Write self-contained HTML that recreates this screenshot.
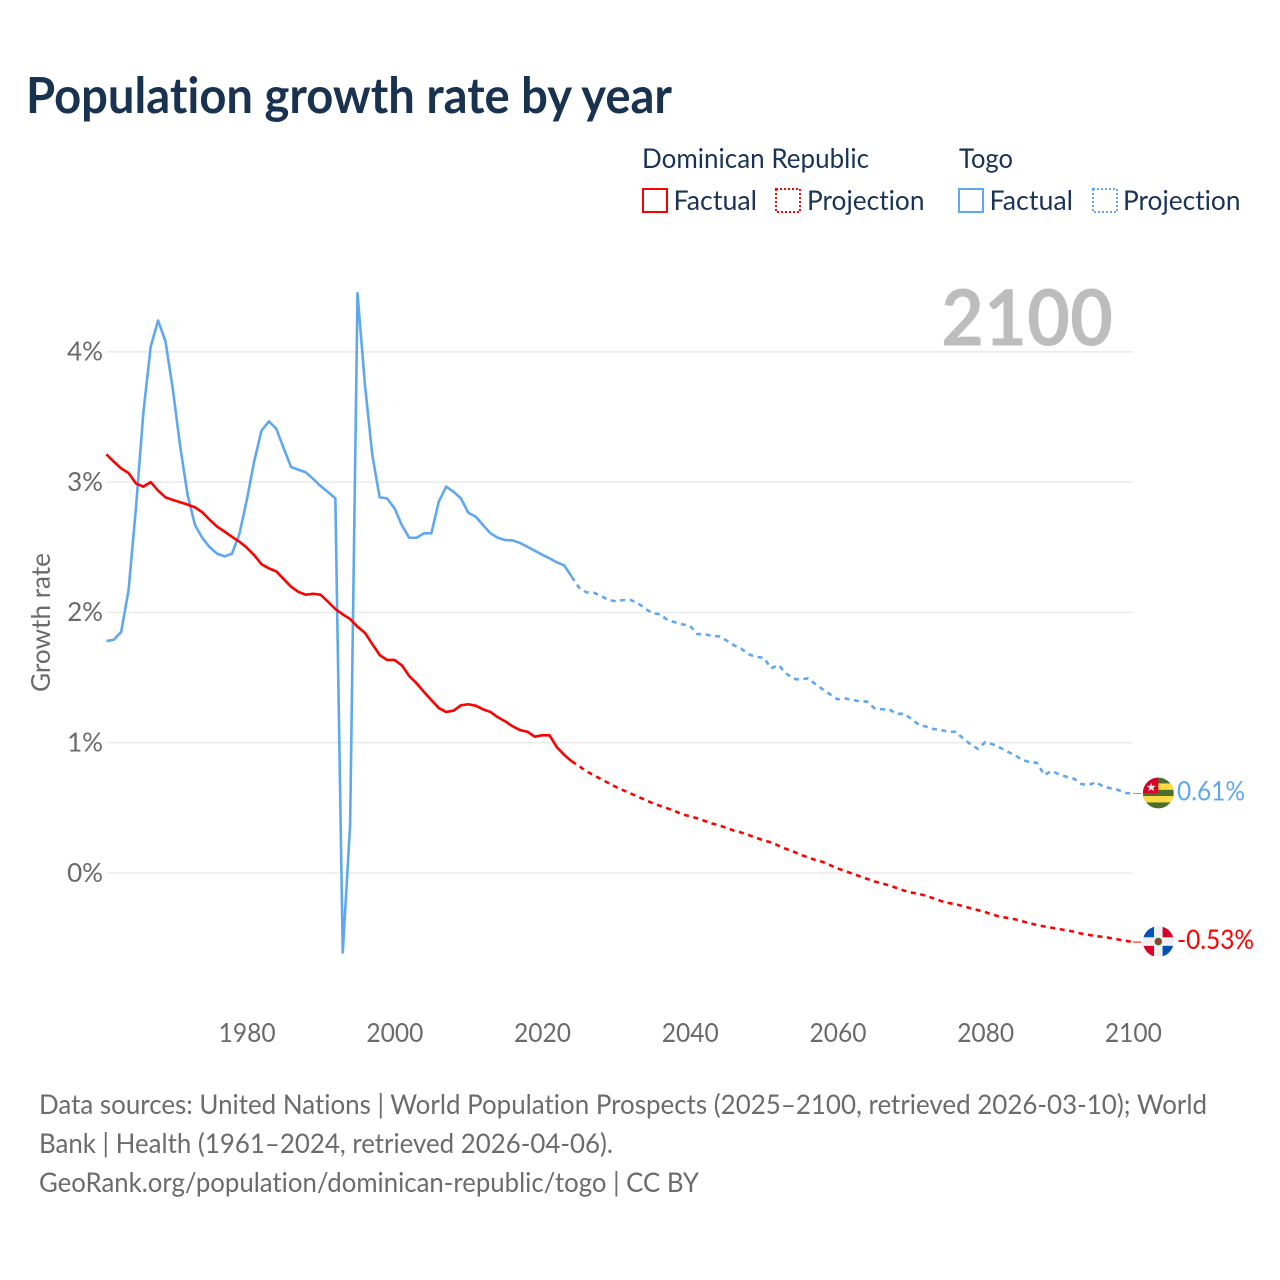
<!DOCTYPE html>
<html lang="en">
<head>
<meta charset="utf-8">
<title>Population growth rate by year</title>
<style>
html,body{margin:0;padding:0;background:#fff;}
svg{display:block;font-family:"Lato","Carlito","Liberation Sans",sans-serif;font-variant-ligatures:none;}
</style>
</head>
<body>
<svg id="chart" xmlns="http://www.w3.org/2000/svg" width="1280" height="1280" viewBox="0 0 1280 1280">
  <defs>
    <clipPath id="flag-clip"><circle cx="0" cy="0" r="15.4"/></clipPath>
  </defs>
  <rect x="0" y="0" width="1280" height="1280" fill="#fff"/>
  <text x="26" y="113" font-size="50" font-weight="700" fill="#18324f" textLength="646" lengthAdjust="spacingAndGlyphs">Population growth rate by year</text>

  <g font-size="27" fill="#1a3356">
    <text x="642" y="168" textLength="227" lengthAdjust="spacingAndGlyphs">Dominican Republic</text>
    <text x="959" y="168" textLength="54" lengthAdjust="spacingAndGlyphs">Togo</text>
    <rect x="643" y="189" width="24" height="23" fill="none" stroke="#ff0000" stroke-width="2"/>
    <text x="673.5" y="210" textLength="83.5" lengthAdjust="spacingAndGlyphs">Factual</text>
    <rect x="776" y="189" width="24" height="23" fill="none" stroke="#ff0000" stroke-width="2" stroke-dasharray="2 2"/>
    <text x="807" y="210" textLength="117.5" lengthAdjust="spacingAndGlyphs">Projection</text>
    <rect x="959" y="189" width="24" height="23" fill="none" stroke="#5fa8f0" stroke-width="2"/>
    <text x="989.5" y="210" textLength="83.5" lengthAdjust="spacingAndGlyphs">Factual</text>
    <rect x="1093" y="189" width="24" height="23" fill="none" stroke="#5fa8f0" stroke-width="2" stroke-dasharray="2 2"/>
    <text x="1123" y="210" textLength="117.5" lengthAdjust="spacingAndGlyphs">Projection</text>
  </g>

  <text transform="translate(50,622.5) rotate(-90)" text-anchor="middle" font-size="26" fill="#6a6a6a" textLength="139" lengthAdjust="spacingAndGlyphs">Growth rate</text>

  <g id="grid"></g>
  <g id="y-ticks"></g>
  <g id="x-ticks"></g>

  <text x="1113" y="345.5" text-anchor="end" font-size="78" font-weight="700" fill="#bdbdbd" textLength="172" lengthAdjust="spacingAndGlyphs">2100</text>

  <g id="series"></g>

  <g id="flag-togo">
    <g clip-path="url(#flag-clip)">
      <rect x="-16" y="-16" width="32" height="32" fill="#496e2d"/>
      <rect x="-16" y="-9.6" width="32" height="6.4" fill="#ffda44"/>
      <rect x="-16" y="3" width="32" height="6.4" fill="#ffda44"/>
      <rect x="-16" y="-16" width="16" height="16" fill="#d80027"/>
      <polygon points="-7,-10.5 -5.8,-7.2 -2.4,-7.2 -5.1,-5.1 -4.1,-1.8 -7,-3.8 -9.9,-1.8 -8.9,-5.1 -11.6,-7.2 -8.2,-7.2" fill="#f0f0f0"/>
    </g>
  </g>
  <g id="flag-dr">
    <g clip-path="url(#flag-clip)">
      <rect x="-16" y="-16" width="32" height="32" fill="#f0f0f0"/>
      <rect x="-16" y="-16" width="11.7" height="11.7" fill="#0052b4"/>
      <rect x="4.3" y="-16" width="11.7" height="11.7" fill="#d80027"/>
      <rect x="-16" y="4.3" width="11.7" height="11.7" fill="#d80027"/>
      <rect x="4.3" y="4.3" width="11.7" height="11.7" fill="#0052b4"/>
      <circle cx="0" cy="0" r="3.8" fill="#496e2d"/>
      <circle cx="0" cy="0" r="2.1" fill="#c8203a"/>
    </g>
  </g>
  <text id="label-togo" x="1177" font-size="27" fill="#5fa8f0" textLength="68" lengthAdjust="spacingAndGlyphs"></text>
  <text id="label-dr" x="1177" font-size="27" fill="#ff0000" textLength="77" lengthAdjust="spacingAndGlyphs"></text>

  <g font-size="27.5" fill="#6b6b6b">
    <text x="39" y="1114" textLength="1168" lengthAdjust="spacingAndGlyphs">Data sources: United Nations | World Population Prospects (2025–2100, retrieved 2026-03-10); World</text>
    <text x="39" y="1153" textLength="574" lengthAdjust="spacingAndGlyphs">Bank | Health (1961–2024, retrieved 2026-04-06).</text>
    <text x="39" y="1192" textLength="660" lengthAdjust="spacingAndGlyphs">GeoRank.org/population/dominican-republic/togo | CC BY</text>
  </g>
</svg>
<script>
const xTicks = [1980, 2000, 2020, 2040, 2060, 2080, 2100];
const yTicks = [0, 1, 2, 3, 4];
const factualStartYear = [1961];
const projectionStartYear = [2024];

const drFactual = [3.213,3.157,3.105,3.07,2.99,2.965,3.0,2.935,2.883,2.863,2.845,2.827,2.806,2.768,2.71,2.658,2.62,2.58,2.543,2.497,2.44,2.37,2.338,2.315,2.256,2.197,2.157,2.136,2.143,2.136,2.082,2.026,1.985,1.949,1.89,1.844,1.757,1.673,1.635,1.635,1.594,1.512,1.456,1.389,1.328,1.266,1.236,1.246,1.287,1.295,1.284,1.256,1.236,1.195,1.164,1.126,1.097,1.084,1.046,1.057,1.057,0.965,0.906,0.857];
const drProjection = [0.857,0.82,0.78,0.75,0.72,0.69,0.66,0.635,0.61,0.585,0.56,0.535,0.515,0.495,0.475,0.45,0.435,0.42,0.40,0.38,0.365,0.345,0.325,0.31,0.29,0.27,0.25,0.235,0.21,0.185,0.165,0.14,0.12,0.10,0.085,0.06,0.035,0.015,-0.005,-0.025,-0.045,-0.065,-0.08,-0.095,-0.115,-0.135,-0.15,-0.16,-0.175,-0.195,-0.215,-0.23,-0.24,-0.255,-0.27,-0.285,-0.30,-0.32,-0.335,-0.345,-0.355,-0.37,-0.385,-0.40,-0.41,-0.42,-0.43,-0.44,-0.45,-0.465,-0.475,-0.485,-0.49,-0.50,-0.51,-0.52,-0.53];
const togoFactual = [1.78,1.79,1.85,2.17,2.8,3.53,4.04,4.24,4.08,3.71,3.27,2.90,2.67,2.57,2.50,2.45,2.43,2.45,2.60,2.86,3.157,3.395,3.466,3.41,3.26,3.116,3.095,3.075,3.024,2.97,2.924,2.875,-0.61,0.37,4.45,3.75,3.21,2.883,2.875,2.80,2.67,2.573,2.573,2.607,2.607,2.85,2.965,2.926,2.875,2.765,2.735,2.67,2.607,2.573,2.555,2.553,2.533,2.504,2.473,2.443,2.415,2.384,2.36,2.274];
const togoProjection = [2.274,2.19,2.154,2.151,2.125,2.095,2.085,2.095,2.095,2.07,2.026,1.993,1.985,1.94,1.924,1.908,1.898,1.834,1.834,1.819,1.816,1.783,1.747,1.72,1.678,1.658,1.652,1.571,1.596,1.533,1.491,1.484,1.494,1.45,1.41,1.37,1.333,1.34,1.328,1.318,1.315,1.264,1.256,1.256,1.22,1.223,1.182,1.138,1.123,1.105,1.097,1.084,1.084,1.033,0.988,0.952,1.005,0.988,0.962,0.931,0.906,0.867,0.852,0.846,0.752,0.783,0.757,0.739,0.724,0.683,0.675,0.698,0.662,0.65,0.637,0.614,0.61];

function xScale(year) {
  return 106.4 + (year - 1961) * (1133 - 106.4) / (2100 - 1961);
}
function yScale(value) {
  return 873 - value * 130.3;
}
function pathFrom(values, startYear) {
  return values.map(function (v, i) {
    return (i ? 'L' : 'M') + xScale(startYear + i).toFixed(2) + ' ' + yScale(v).toFixed(2);
  }).join('');
}
const NS = 'http://www.w3.org/2000/svg';
const gridG = document.getElementById('grid');
const yG = document.getElementById('y-ticks');
const xG = document.getElementById('x-ticks');
const seriesG = document.getElementById('series');

yTicks.forEach(function (t) {
  const line = document.createElementNS(NS, 'line');
  
  
  line.setAttribute('x1', xScale(1961));
  line.setAttribute('x2', xScale(2100));
  line.setAttribute('y1', yScale(t));
  line.setAttribute('y2', yScale(t));
  line.setAttribute('stroke', '#ebebeb');
  line.setAttribute('stroke-width', '1.6');
  gridG.appendChild(line);

  const label = document.createElementNS(NS, 'text');
  
  
  label.setAttribute('x', 103);
  label.setAttribute('y', yScale(t) + 8.8);
  label.setAttribute('text-anchor', 'end');
  label.setAttribute('font-size', '26');
  label.setAttribute('fill', '#6a6a6a');
  label.textContent = t + '%';
  yG.appendChild(label);
});

xTicks.forEach(function (t) {
  const label = document.createElementNS(NS, 'text');
  
  
  label.setAttribute('x', xScale(t) + 0.4);
  label.setAttribute('y', 1042);
  label.setAttribute('text-anchor', 'middle');
  label.setAttribute('font-size', '26');
  label.setAttribute('fill', '#6a6a6a');
  label.setAttribute('textLength', '57');
  label.setAttribute('lengthAdjust', 'spacingAndGlyphs');
  label.textContent = t;
  xG.appendChild(label);
});

function addLine(values, startYear, color, dashed, name) {
  const p = document.createElementNS(NS, 'path');
  
  
  p.setAttribute('d', pathFrom(values, startYear));
  p.setAttribute('fill', 'none');
  p.setAttribute('stroke', color);
  p.setAttribute('stroke-width', '2.6');
  p.setAttribute('stroke-linejoin', 'round');
  if (dashed) p.setAttribute('stroke-dasharray', '5 4.6');
  seriesG.appendChild(p);
}
addLine(togoFactual, factualStartYear[0], '#5fa8f0', false, 'togo-factual-line');
addLine(togoProjection, projectionStartYear[0], '#5fa8f0', true, 'togo-projection-line');
addLine(drFactual, factualStartYear[0], '#ff0000', false, 'dominican-republic-factual-line');
addLine(drProjection, projectionStartYear[0], '#ff0000', true, 'dominican-republic-projection-line');

function addEnd(values, color, flagId, labelId, connectorName) {
  const last = values[values.length - 1];
  const y = yScale(last);
  const c = document.createElementNS(NS, 'line');
  
  
  c.setAttribute('x1', xScale(2100));
  c.setAttribute('x2', 1141);
  c.setAttribute('y1', y);
  c.setAttribute('y2', y);
  c.setAttribute('stroke', color);
  c.setAttribute('stroke-width', '1');
  seriesG.appendChild(c);
  document.getElementById(flagId).setAttribute('transform', 'translate(1158.3,' + (y - 0.5).toFixed(2) + ')');
  const t = document.getElementById(labelId);
  t.setAttribute('y', (y + 6.8).toFixed(2));
  t.textContent = last.toFixed(2) + '%';
}
addEnd(togoProjection, '#5fa8f0', 'flag-togo', 'label-togo', 'togo-end-connector');
addEnd(drProjection, '#ff0000', 'flag-dr', 'label-dr', 'dominican-republic-end-connector');
</script>
</body>
</html>
